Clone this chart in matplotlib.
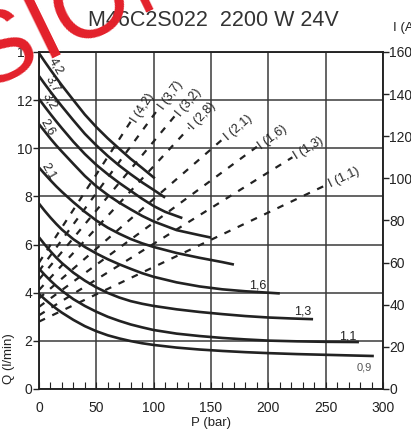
import numpy as np
import matplotlib
matplotlib.use("Agg")
import matplotlib.pyplot as plt

plt.rcParams['font.family'] = ['Liberation Sans', 'DejaVu Sans']

# solid curves: flow Q (l/min) against pressure P (bar), one per displacement
displacements = ["4,2", "3,7", "3,2", "2,6", "2,1", "1,6", "1,3", "1,1", "0,9"]
p_42 = [0, 5, 10, 15, 20, 30, 40, 50, 60, 70, 80, 90, 101]
q_42 = [13.95, 13.6, 13.26, 12.93, 12.61, 12.0, 11.4, 10.88, 10.41, 9.98, 9.56, 9.18, 8.75]
p_37 = [0, 5, 10, 15, 20, 30, 40, 50, 60, 70, 80, 90, 100, 110]
q_37 = [13.0, 12.67, 12.35, 12.04, 11.74, 11.16, 10.6, 10.12, 9.68, 9.28, 8.92, 8.58, 8.27, 7.95]
p_32 = [0, 5, 10, 15, 20, 30, 40, 50, 60, 70, 80, 90, 100, 110, 125]
q_32 = [12.05, 11.73, 11.42, 11.12, 10.83, 10.27, 9.76, 9.31, 8.92, 8.56, 8.23, 7.9, 7.6, 7.36, 7.1]
p_26 = [0, 5, 10, 15, 20, 30, 40, 50, 60, 70, 80, 90, 100, 120, 140, 150]
q_26 = [11.0, 10.7, 10.4, 10.12, 9.86, 9.35, 8.85, 8.42, 8.06, 7.74, 7.46, 7.19, 6.96, 6.6, 6.39, 6.29]
p_21 = [0, 5, 10, 15, 20, 30, 40, 50, 60, 70, 80, 90, 100, 120, 140, 160, 170]
q_21 = [9.2, 8.93, 8.67, 8.42, 8.19, 7.76, 7.36, 7.0, 6.7, 6.45, 6.23, 6.05, 5.9, 5.65, 5.45, 5.27, 5.17]
p_16 = [0, 5, 10, 15, 20, 30, 40, 50, 60, 70, 80, 90, 100, 120, 140, 160, 180, 200, 210]
q_16 = [7.7, 7.4, 7.12, 6.86, 6.62, 6.22, 5.9, 5.63, 5.39, 5.18, 4.99, 4.81, 4.66, 4.43, 4.26, 4.14, 4.06, 4.0, 3.97]
p_13 = [0, 5, 10, 15, 20, 30, 40, 50, 60, 70, 80, 90, 100, 120, 140, 160, 180, 200, 220, 239]
q_13 = [6.3, 6.0, 5.72, 5.46, 5.23, 4.83, 4.5, 4.22, 3.99, 3.8, 3.65, 3.54, 3.45, 3.31, 3.2, 3.11, 3.03, 2.97, 2.93, 2.9]
p_11 = [0, 5, 10, 15, 20, 30, 40, 50, 60, 70, 80, 90, 100, 120, 140, 160, 180, 200, 225, 250, 279]
q_11 = [5.0, 4.74, 4.5, 4.28, 4.08, 3.73, 3.45, 3.21, 3.0, 2.83, 2.68, 2.56, 2.45, 2.3, 2.2, 2.12, 2.06, 2.01, 1.98, 1.96, 1.95]
p_09 = [0, 5, 10, 15, 20, 30, 40, 50, 60, 70, 80, 90, 100, 120, 140, 160, 180, 200, 225, 250, 275, 292]
q_09 = [3.95, 3.73, 3.53, 3.34, 3.17, 2.87, 2.61, 2.4, 2.23, 2.1, 1.99, 1.9, 1.83, 1.72, 1.64, 1.58, 1.53, 1.49, 1.45, 1.42, 1.39, 1.37]

curves_p = [p_42, p_37, p_32, p_26, p_21, p_16, p_13, p_11, p_09]
curves_q = [q_42, q_37, q_32, q_26, q_21, q_16, q_13, q_11, q_09]

# dashed lines: current I (A) against pressure, straight from P=0 to end
i_labels = ["I (4,2)", "I (3,7)", "I (3,2)", "I (2,8)", "I (2,1)", "I (1,6)", "I (1,3)", "I (1,1)"]
i_start = [60, 56, 52, 47, 43, 39, 35, 32]
p_end = [80, 104, 119, 131, 161, 190, 221, 251]
i_end = [127, 133, 130, 124, 119, 115, 110, 97]

fig = plt.figure(figsize=(4.11, 4.34), dpi=100)
ax = fig.add_axes([0.0949, 0.1037, 0.8370, 0.7765])
ax2 = ax.twinx()

ink = '#222222'
for p, q in zip(curves_p, curves_q):
    ax.plot(p, q, color=ink, lw=1.9, solid_capstyle='butt', solid_joinstyle='round', zorder=3)

for i0, pe, ie in zip(i_start, p_end, i_end):
    ax2.plot([0, pe], [i0, ie], color=ink, lw=1.6, ls=(0, (3, 3.6)), zorder=3)

ax.set_xlim(0, 300)
ax.set_ylim(0, 14)
ax2.set_ylim(0, 160)
ax.set_xticks(np.arange(0, 301, 50))
ax.set_xticks(np.arange(0, 301, 10), minor=True)
ax.set_yticks(np.arange(0, 15, 2))
ax2.set_yticks(np.arange(0, 161, 20))

ax.grid(True, which='major', color='#3a3a3a', lw=1.1)
ax.set_axisbelow(True)
for a in (ax, ax2):
    for s in a.spines.values():
        s.set_color('#222222')
        s.set_linewidth(1.1)

ax.tick_params(axis='x', which='both', direction='in', length=5, width=0.8, labelsize=10, pad=9, colors='#222222')
ax.tick_params(axis='y', direction='out', length=4, width=1, labelsize=10, pad=1, colors='#222222')
ax2.tick_params(axis='y', direction='out', length=4, width=1, labelsize=10, pad=0.5, colors='#222222')

ax.set_xlabel('P (bar)', fontsize=9.5, labelpad=1, color='#222222')
ax.set_ylabel('Q (l/min)', fontsize=9.5, labelpad=2, color='#222222')
ax.yaxis.set_label_coords(-0.07, 0.09)

fig.text(0.52, 0.953, 'M46C2S022  2200 W 24V', fontsize=15.5, ha='center', va='center', color='#333333')
fig.text(0.957, 0.935, 'I (A)', fontsize=9.5, ha='left', va='center', color='#222222')

# labels of the solid curves
lab_pos = [(15, 13.4), (12, 12.65), (9, 11.94), (7.4, 10.86), (8.7, 9.04)]
for name, (x, y) in zip(displacements[:5], lab_pos):
    ax.text(x, y, name, fontsize=9, rotation=-60, ha='center', va='center', color=ink, zorder=5)
ax.text(191, 4.32, '1,6', fontsize=9, ha='center', va='center', color=ink)
ax.text(230, 3.2, '1,3', fontsize=9, ha='center', va='center', color=ink)
ax.text(269, 2.2, '1,1', fontsize=9, ha='center', va='center', color=ink)
ax.text(284, 0.91, '0,9', fontsize=8, ha='center', va='center', color='#555555')

# labels at the upper end of the dashed lines, along the line
for lab, i0, pe, ie in zip(i_labels, i_start, p_end, i_end):
    p0 = ax2.transData.transform((0, i0))
    p1 = ax2.transData.transform((pe, ie))
    ang = np.degrees(np.arctan2(p1[1] - p0[1], p1[0] - p0[0]))
    ax2.annotate(lab, (pe, ie), xytext=(2, 0), textcoords='offset points',
                 fontsize=9, rotation=ang, rotation_mode='anchor',
                 ha='left', va='center', color=ink)

fig.text(-0.55, 0.562, 'REVISIONE', fontsize=72, color='#e3202a', rotation=26,
         rotation_mode='anchor', ha='left', va='baseline', zorder=10)

fig.savefig('out.png', dpi=100)
